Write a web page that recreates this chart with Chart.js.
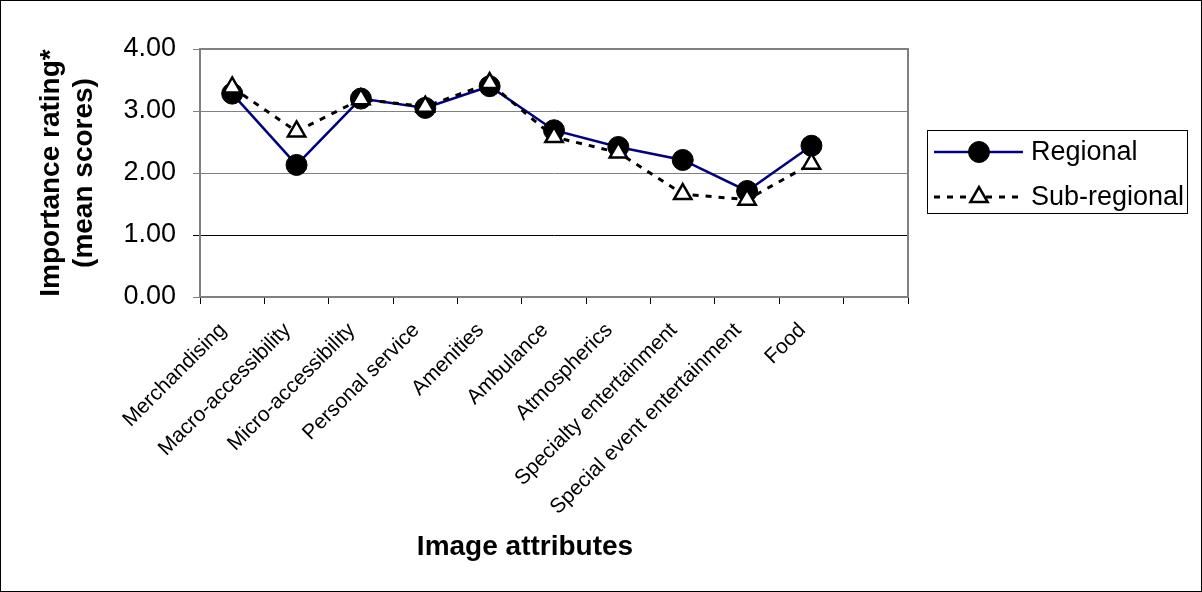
<!DOCTYPE html>
<html lang="en">
  <head>
    <meta charset="UTF-8" />
    <title>Image attributes - importance rating</title>
    <script src="https://cdn.jsdelivr.net/npm/chart.js"></script>
    <style>
      html, body { margin: 0; padding: 0; background: #fff; }
      #wrap { width: 1202px; height: 592px; }
    </style>
  </head>
  <body>
    <div id="wrap"><canvas id="chart" width="1202" height="592"></canvas></div>
    <script>
      const categories = [
        "Merchandising",
        "Macro-accessibility",
        "Micro-accessibility",
        "Personal service",
        "Amenities",
        "Ambulance",
        "Atmospherics",
        "Specialty entertainment",
        "Special event entertainment",
        "Food",
        "",
      ];
      const regional = [3.28, 2.13, 3.2, 3.05, 3.4, 2.69, 2.42, 2.21, 1.71, 2.44];
      const subRegional = [3.38, 2.67, 3.19, 3.07, 3.45, 2.58, 2.33, 1.66, 1.57, 2.15];
      const yTicks = [0, 1, 2, 3, 4];
      const xTitle = "Image attributes";

      const FONT = "'Liberation Sans', Arial, sans-serif";

      // frame round the canvas, grey box round the plot, x title and boxed legend
      const framePlugin = {
        id: "frame",
        afterDraw(chart) {
          const { ctx, chartArea: a } = chart;
          ctx.save();
          ctx.strokeStyle = "#808080";
          ctx.lineWidth = 2;
          ctx.strokeRect(a.left, a.top, a.right - a.left, a.bottom - a.top);
          ctx.strokeStyle = "#000";
          ctx.lineWidth = 1;
          ctx.strokeRect(0.5, 0.5, chart.width - 1, chart.height - 1);

          ctx.fillStyle = "#000";
          ctx.font = "bold 28px " + FONT;
          ctx.textAlign = "center";
          ctx.textBaseline = "middle";
          ctx.fillText(xTitle, 525, 547);
          ctx.textAlign = "left";

          ctx.strokeRect(927.5, 130.5, 260, 83);
          const rows = [152, 197];
          chart.data.datasets.forEach((ds, i) => {
            const y = rows[i];
            ctx.save();
            ctx.strokeStyle = ds.borderColor;
            ctx.lineWidth = ds.borderWidth;
            ctx.setLineDash(ds.borderDash || []);
            ctx.beginPath();
            ctx.moveTo(934, y);
            ctx.lineTo(1023, y);
            ctx.stroke();
            ctx.setLineDash([]);
            ctx.fillStyle = ds.pointBackgroundColor;
            ctx.strokeStyle = ds.pointBorderColor;
            ctx.lineWidth = ds.pointBorderWidth;
            Chart.helpers.drawPoint(
              ctx,
              { pointStyle: ds.pointStyle, radius: ds.pointRadius, rotation: 0, borderWidth: ds.pointBorderWidth },
              979,
              y
            );
            ctx.restore();
            ctx.fillStyle = "#000";
            ctx.font = "27px " + FONT;
            ctx.textBaseline = "middle";
            ctx.fillText(ds.label, 1031, y + 1);
          });
          ctx.restore();
        },
      };

      new Chart(document.getElementById("chart"), {
        type: "line",
        data: {
          labels: categories,
          datasets: [
            {
              label: "Regional",
              data: regional,
              borderColor: "#000080",
              borderWidth: 2.5,
              pointStyle: "circle",
              pointRadius: 10.5,
              pointBackgroundColor: "#000",
              pointBorderColor: "#000",
              pointBorderWidth: 1,
              order: 1,
            },
            {
              label: "Sub-regional",
              data: subRegional,
              borderColor: "#000",
              borderWidth: 3,
              borderDash: [6, 7],
              pointStyle: "triangle",
              pointRadius: 10,
              pointBackgroundColor: "#fff",
              pointBorderColor: "#000",
              pointBorderWidth: 2.5,
              order: 0,
            },
          ],
        },
        options: {
          responsive: false,
          animation: false,
          layout: { padding: { left: 0, right: 294, top: 49, bottom: 0 } },
          plugins: { legend: { display: false }, tooltip: { enabled: false } },
          scales: {
            x: {
              offset: true,
              grid: { offset: true, drawOnChartArea: false, tickLength: 7, color: "#000", lineWidth: 1 },
              border: { color: "#404040", width: 2 },
              ticks: {
                autoSkip: false,
                minRotation: 45,
                maxRotation: 45,
                padding: 14,
                labelOffset: -9,
                color: "#000",
                font: { family: FONT, size: 21 },
              },
              afterFit(scale) {
                scale.height = 295;
              },
            },
            y: {
              min: 0,
              max: 4,
              afterBuildTicks(scale) {
                scale.ticks = yTicks.map((v) => ({ value: v }));
              },
              grid: {
                tickLength: 7,
                color: (c) => (c.tick && c.tick.value === 1 ? "#000" : "#808080"),
                lineWidth: 1,
              },
              border: { color: "#404040", width: 2 },
              ticks: {
                padding: 17,
                color: "#000",
                font: { family: FONT, size: 27 },
                callback: (v) => Number(v).toFixed(2),
              },
              title: {
                display: true,
                text: ["Importance rating*", "(mean scores)"],
                color: "#000",
                font: { family: FONT, size: 28, weight: "bold", lineHeight: 1.2 },
                padding: { top: 34, bottom: 0 },
              },
              afterFit(scale) {
                scale.width = 200;
              },
            },
          },
        },
        plugins: [framePlugin],
      });
    </script>
  </body>
</html>
